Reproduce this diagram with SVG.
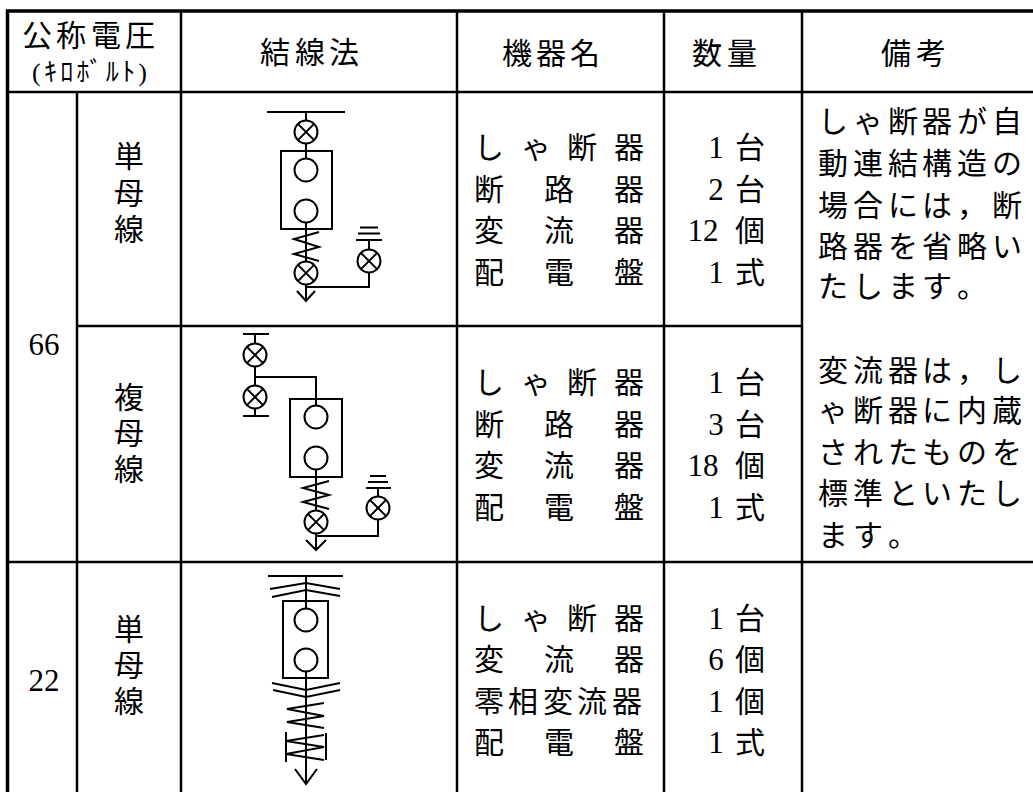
<svg xmlns="http://www.w3.org/2000/svg" xmlns:xlink="http://www.w3.org/1999/xlink" width="1033" height="792" viewBox="0 0 1033 792">
<style>
.thick{stroke:#000;stroke-width:3.5;fill:none}
.thin{stroke:#000;stroke-width:2.5;fill:none}
.d{stroke:#000;stroke-width:2;fill:none}
text{font-family:"Liberation Serif","Noto Sans CJK JP",serif;font-size:30px;fill:#000}
.sm{font-size:26px}
.c{text-anchor:middle}
.n{font-size:31px}
</style>
<defs>
<g id="xc"><circle r="11.5"/><path d="M-8.1,-8.1 L8.1,8.1 M-8.1,8.1 L8.1,-8.1"/></g>
</defs>
<rect width="1033" height="792" fill="#fff"/>
<g id="grid">
<path class="thick" d="M6,11 H1033 M7.5,9.5 V792"/>
<path class="thin" d="M7,92 H1033 M77,92 V792 M181,11 V792 M457,11 V792 M664,11 V792 M802,11 V792 M77,326 H802 M7,562 H1033"/>
</g>
<g id="header">
<text x="22 56 91 125" y="46">公称電圧</text>
<text class="sm" x="32" y="81" textLength="115" lengthAdjust="spacing">(ｷﾛﾎﾞﾙﾄ)</text>
<text x="260 295 329" y="63">結線法</text>
<text x="502 536 570" y="64">機器名</text>
<text x="692 727" y="64">数量</text>
<text x="881 916" y="64">備考</text>
</g>
<g id="voltage">
<text class="c n" x="44" y="355">66</text>
<text class="c n" x="44" y="691">22</text>
</g>
<g id="busType">
<text class="c" x="129" y="167">単</text><text class="c" x="129" y="204">母</text><text class="c" x="129" y="240">線</text>
<text class="c" x="129" y="408">複</text><text class="c" x="129" y="444">母</text><text class="c" x="129" y="480">線</text>
<text class="c" x="129" y="640">単</text><text class="c" x="129" y="676">母</text><text class="c" x="129" y="712">線</text>
</g>
<g id="diagram1" class="d">
<path d="M267,112 H345 M306,112 V120.5 M306,143.5 V158.5 M306,222.5 V261.5 M306,284.5 V301 M297,291 L306,301 L315,291 M306,287 H369 V272.5 M369,249.5 V240 M356,240 H382 M358,233.5 H380 M360,227.5 H378"/>
<use xlink:href="#xc" x="306" y="132"/>
<rect x="281" y="151" width="51" height="78"/>
<circle cx="306" cy="170" r="11.5"/>
<circle cx="306" cy="211" r="11.5"/>
<polyline points="319,232 294,239 319,247 294,254 319,261"/>
<use xlink:href="#xc" x="306" y="273"/>
<use xlink:href="#xc" x="369" y="261"/>
</g>
<g id="diagram2" class="d">
<path d="M243,334 H269 M255,334 V343.5 M255,366.5 V385.5 M255,408.5 V416 M243,416 H269 M255,377 H316 V405.5 M316,469.5 V510.5 M316,533.5 V550 M306,540 L316,550 L326,540 M316,536 H378 V519.5 M378,496.5 V488 M366,488 H391 M368,482 H388 M370,476 H386"/>
<use xlink:href="#xc" x="255" y="355"/>
<use xlink:href="#xc" x="255" y="397"/>
<rect x="290" y="399" width="52" height="78"/>
<circle cx="316" cy="417" r="11.5"/>
<circle cx="316" cy="458" r="11.5"/>
<polyline points="329,481 303,488 329,495 303,502 329,509"/>
<use xlink:href="#xc" x="316" y="522"/>
<use xlink:href="#xc" x="378" y="508"/>
</g>
<g id="diagram3" class="d">
<path d="M268,576 H343 M306,576 V608.5 M270,589 L306,583 L340,589 M272,597 L306,590 L340,596 M306,671.5 V784 M272,683 L306,690 L340,683 M273,690 L306,697 L340,690 M286,732 V762 M326,733 V760 M295,769 L306,784 L317,769"/>
<rect x="283" y="601" width="45" height="77"/>
<circle cx="306" cy="620" r="11.5"/>
<circle cx="306" cy="660" r="11.5"/>
<polyline points="324,703 287,709 324,716 287,722 324,728"/>
<polyline points="324,735 286,741 324,747 286,754 324,760"/>
</g>
<g id="equipment">
<text x="474 521 567 614" y="158">しゃ断器</text>
<text x="474 544 614" y="200">断路器</text>
<text x="474 544 614" y="241">変流器</text>
<text x="474 544 614" y="283">配電盤</text>
<text x="474 521 567 614" y="393">しゃ断器</text>
<text x="474 544 614" y="435">断路器</text>
<text x="474 544 614" y="476">変流器</text>
<text x="474 544 614" y="518">配電盤</text>
<text x="474 521 567 614" y="629">しゃ断器</text>
<text x="474 544 614" y="670">変流器</text>
<text x="474 508 543 577 612" y="712">零相変流器</text>
<text x="474 544 614" y="753">配電盤</text>
</g>
<g id="quantity">
<text class="c n" x="716" y="158">1</text><text x="735" y="158">台</text>
<text class="c n" x="716" y="200">2</text><text x="735" y="200">台</text>
<text class="c n" x="703" y="241">12</text><text x="735" y="241">個</text>
<text class="c n" x="716" y="283">1</text><text x="735" y="283">式</text>
<text class="c n" x="716" y="393">1</text><text x="735" y="393">台</text>
<text class="c n" x="716" y="435">3</text><text x="735" y="435">台</text>
<text class="c n" x="703" y="476">18</text><text x="735" y="476">個</text>
<text class="c n" x="716" y="518">1</text><text x="735" y="518">式</text>
<text class="c n" x="716" y="629">1</text><text x="735" y="629">台</text>
<text class="c n" x="716" y="670">6</text><text x="735" y="670">個</text>
<text class="c n" x="716" y="712">1</text><text x="735" y="712">個</text>
<text class="c n" x="716" y="753">1</text><text x="735" y="753">式</text>
</g>
<g id="remarks">
<text x="818 853 888 922 957 992" y="132">しゃ断器が自</text>
<text x="818 853 888 922 957 992" y="174">動連結構造の</text>
<text x="818 853 888 922 957 992" y="216">場合には，断</text>
<text x="818 853 888 922 957 992" y="257">路器を省略い</text>
<text x="818 853 888 922 957" y="297">たします。</text>
<text x="818 853 888 922 957 992" y="381">変流器は，し</text>
<text x="818 853 888 922 957 992" y="421">ゃ断器に内蔵</text>
<text x="818 853 888 922 957 992" y="463">されたものを</text>
<text x="818 853 888 922 957 992" y="504">標準といたし</text>
<text x="818 853 888" y="546">ます。</text>
</g>
</svg>
